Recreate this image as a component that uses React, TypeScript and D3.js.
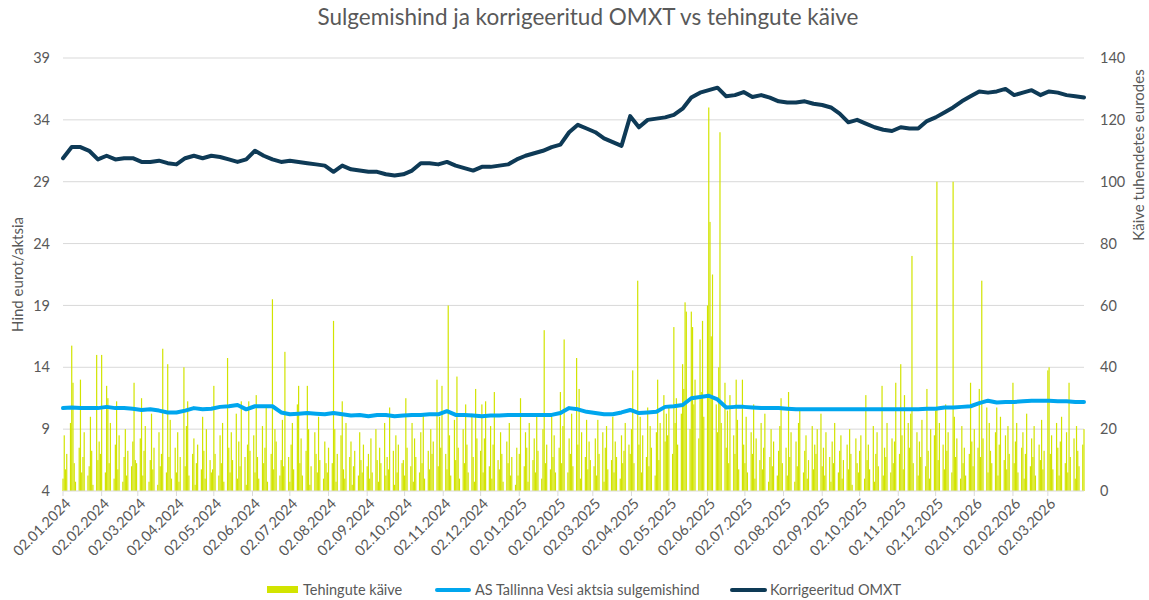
import * as d3 from "d3";

// weekly values (every 7 days from 02.01.2024), left axis
const omxt = [
  30.9, 31.8, 31.8, 31.5, 30.8, 31.1, 30.8, 30.9, 30.9, 30.6,
  30.6, 30.7, 30.5, 30.4, 30.9, 31.1, 30.9, 31.1, 31.0, 30.8,
  30.6, 30.8, 31.5, 31.1, 30.8, 30.6, 30.7, 30.6, 30.5, 30.4,
  30.3, 29.8, 30.3, 30.0, 29.9, 29.8, 29.8, 29.6, 29.5, 29.6,
  29.9, 30.5, 30.5, 30.4, 30.6, 30.3, 30.1, 29.9, 30.2, 30.2,
  30.3, 30.4, 30.8, 31.1, 31.3, 31.5, 31.8, 32.0, 33.0, 33.6,
  33.3, 33.0, 32.5, 32.2, 31.9, 34.3, 33.4, 34.0, 34.1, 34.2,
  34.4, 34.9, 35.8, 36.2, 36.4, 36.6, 35.9, 36.0, 36.25, 35.85,
  36.0, 35.8, 35.5, 35.4, 35.4, 35.5, 35.3, 35.2, 35.0, 34.5,
  33.8, 34.0, 33.7, 33.4, 33.2, 33.1, 33.4, 33.3, 33.3, 33.9,
  34.2, 34.6, 35.0, 35.5, 35.9, 36.3, 36.2, 36.3, 36.5, 36.0,
  36.2, 36.4, 36.0, 36.3, 36.2, 36.0, 35.9, 35.8,
];

const price = [
  10.7, 10.75, 10.7, 10.7, 10.7, 10.8, 10.7, 10.7, 10.65, 10.55,
  10.6, 10.5, 10.35, 10.35, 10.5, 10.7, 10.6, 10.65, 10.8, 10.85,
  10.95, 10.6, 10.85, 10.85, 10.85, 10.35, 10.2, 10.25, 10.3, 10.25,
  10.2, 10.3, 10.2, 10.1, 10.15, 10.05, 10.15, 10.15, 10.05, 10.1,
  10.15, 10.15, 10.2, 10.2, 10.45, 10.15, 10.15, 10.1, 10.05, 10.1,
  10.1, 10.15, 10.15, 10.15, 10.15, 10.15, 10.15, 10.3, 10.7, 10.6,
  10.4, 10.3, 10.2, 10.2, 10.35, 10.55, 10.3, 10.35, 10.4, 10.8,
  10.85, 10.95, 11.5, 11.6, 11.7, 11.4, 10.75, 10.8, 10.8, 10.75,
  10.7, 10.7, 10.7, 10.65, 10.6, 10.6, 10.6, 10.6, 10.6, 10.6,
  10.6, 10.6, 10.6, 10.6, 10.6, 10.6, 10.6, 10.6, 10.6, 10.65,
  10.65, 10.75, 10.75, 10.8, 10.85, 11.1, 11.3, 11.15, 11.2, 11.2,
  11.25, 11.3, 11.3, 11.3, 11.25, 11.25, 11.2, 11.2,
];

// daily turnover (thousand EUR), one value per trading day, one line per month
const vol2024 = [
  4, 18, 7, 12, 22, 47, 35, 9, 3, 14, 36, 6, 11, 19, 5, 8, 24, 13, 2, 44, 10, 16,
  12, 44, 6, 34, 30, 9, 22, 4, 15, 29, 7, 18, 3, 11, 20, 5, 13, 8, 16, 35, 10,
  9, 17, 30, 5, 13, 21, 3, 10, 25, 7, 14, 2, 19, 8, 12, 46, 6, 41, 11, 23, 4,
  14, 6, 19, 3, 11, 40, 8, 21, 29, 5, 12, 17, 2, 9, 15, 7, 24, 13, 4, 20, 10, 6,
  7, 34, 12, 5, 18, 9, 22, 3, 43, 14, 6, 19, 10, 25, 4, 16, 8, 29, 11, 2, 15, 29, 13,
  18, 6, 31, 11, 4, 21, 9, 14, 27, 3, 12, 62, 7, 20, 16, 5, 10, 23, 8, 45,
  11, 3, 15, 22, 7, 28, 34, 9, 17, 5, 13, 34, 20, 2, 8, 19, 12, 6, 24, 10, 4, 16, 9,
  6, 14, 9, 55, 20, 3, 12, 18, 29, 7, 4, 22, 11, 16, 2, 8, 13, 5, 19, 10, 6, 15,
  8, 12, 4, 17, 6, 20, 10, 3, 14, 9, 22, 5, 11, 7, 27, 13, 2, 18, 6, 15, 9,
  10, 5, 30, 14, 8, 22, 3, 17, 11, 6, 19, 9, 25, 4, 13, 7, 20, 12, 16, 36, 8, 24, 14,
  34, 12, 7, 60, 18, 5, 23, 10, 37, 14, 4, 20, 9, 28, 15, 6, 25, 11, 3, 33, 17,
  13, 28, 6, 17, 29, 8, 21, 4, 15, 32, 10, 7, 19, 12, 3, 16, 9, 22, 5, 11, 2, 14,
];
const vol2025 = [
  5, 12, 30, 8, 19, 14, 3, 22, 10, 17, 6, 25, 13, 4, 20, 52, 9, 15, 7, 24, 11, 18, 6,
  14, 32, 9, 21, 49, 6, 17, 12, 25, 8, 43, 15, 33, 4, 19, 11, 23, 7, 16, 10,
  8, 17, 5, 23, 12, 19, 3, 14, 21, 7, 10, 24, 6, 16, 11, 4, 18, 9, 13, 22, 15,
  12, 20, 39, 9, 68, 15, 24, 6, 18, 11, 27, 8, 21, 14, 5, 19, 36, 10, 22, 31, 16, 25,
  18, 27, 12, 53, 22, 30, 15, 25, 41, 33, 61, 58, 20, 58, 53, 28, 36, 17, 49, 32, 55, 24,
  60, 124, 87, 50, 70, 28, 19, 40, 116, 22, 35, 14, 26, 9, 31, 18, 12, 36, 23, 7, 36,
  15, 9, 24, 6, 19, 12, 28, 4, 17, 10, 22, 7, 14, 25, 3, 11, 20, 8, 16, 5, 13, 21, 30,
  9, 14, 5, 32, 11, 19, 3, 16, 8, 22, 26, 6, 13, 18, 4, 10, 21, 7, 15, 12, 20,
  25, 8, 14, 5, 19, 11, 3, 16, 9, 22, 6, 13, 18, 4, 10, 15, 7, 20, 12, 2, 17, 9,
  6, 13, 18, 4, 31, 10, 15, 7, 21, 3, 12, 19, 8, 34, 5, 14, 11, 22, 6, 17, 9, 16, 35,
  12, 41, 18, 7, 31, 22, 14, 25, 76, 9, 19, 5, 16, 11, 23, 8, 33, 13, 4, 20,
  18, 26, 100, 10, 22, 15, 7, 28, 13, 19, 6, 100, 24, 11, 17, 4, 21, 9, 14, 5, 12, 35, 16,
];
const vol2026 = [
  8, 20, 14, 33, 11, 68, 17, 27, 6, 22, 13, 9, 19, 27, 5, 15, 24, 10, 18, 7, 21, 12,
  35, 9, 16, 22, 6, 14, 19, 4, 12, 25, 8, 17, 11, 21, 5, 15, 10, 23, 7, 13,
  39, 40, 12, 18, 7, 22, 14, 5, 16, 24, 9, 19, 6, 35, 11, 17, 4, 21, 13, 8, 15, 20,
];

const leftTicks = [4, 9, 14, 19, 24, 29, 34, 39];
const rightTicks = [0, 20, 40, 60, 80, 100, 120, 140];

const title = "Sulgemishind ja korrigeeritud OMXT vs tehingute käive";
const leftTitle = "Hind eurot/aktsia";
const rightTitle = "Käive tuhendetes eurodes";
const legendItems = ["Tehingute käive", "AS Tallinna Vesi aktsia sulgemishind", "Korrigeeritud OMXT"];

const FONT = "Lato, 'Open Sans', sans-serif";
const TXT = "#595959";
const BAR = "#d2e400";
const BLUE = "#00a6ee";
const NAVY = "#0e3a56";

export default function App() {
  const start = new Date(2024, 0, 2);
  const end = new Date(2026, 2, 31);
  const left = 63, right = 1084, top = 58, bottom = 491;

  const x = d3.scaleTime().domain([start, end]).range([left, right]);
  const yL = d3.scaleLinear().domain([4, 39]).range([bottom, top]);
  const yR = d3.scaleLinear().domain([0, 140]).range([bottom, top]);

  const tradingDays = d3
    .timeDays(start, d3.timeDay.offset(end, 1))
    .filter((d) => d.getDay() !== 0 && d.getDay() !== 6);
  const vol = [...vol2024, ...vol2025, ...vol2026];
  const bars = tradingDays.slice(0, vol.length).map((d, i) => ({ d, v: vol[i] }));

  const weeks = omxt.map((_, i) => d3.timeDay.offset(start, 7 * i));
  const monthTicks = d3.range(27).map((i) => new Date(2024, i, 2));
  const fmt = d3.timeFormat("%d.%m.%Y");

  const lineL = d3
    .line<number>()
    .x((_, i) => x(weeks[i]))
    .y((v) => yL(v));

  return (
    <svg
      width={1149}
      height={600}
      style={{ position: "absolute", left: 0, top: 0, background: "#fff" }}
      fontFamily={FONT}
    >
      <text x={588} y={25} textAnchor="middle" fontSize={22.5} fill={TXT}>
        {title}
      </text>

      {/* gridlines */}
      {leftTicks.slice(1).map((t) => (
        <line key={t} x1={left} x2={right} y1={yL(t)} y2={yL(t)} stroke="#d9d9d9" strokeWidth={1} />
      ))}

      {/* turnover bars */}
      {bars.map((b, i) => (
        <rect key={i} x={x(b.d) - 0.6} width={1.2} y={yR(b.v)} height={bottom - yR(b.v)} fill={BAR} />
      ))}

      {/* x axis */}
      <line x1={left} x2={right} y1={bottom} y2={bottom} stroke="#d9d9d9" strokeWidth={1} />
      {monthTicks.map((t, i) => (
        <g key={i}>
          <line x1={x(t)} x2={x(t)} y1={bottom} y2={bottom + 5} stroke="#d9d9d9" />
          <text
            transform={`translate(${x(t) + 5},${bottom + 10}) rotate(-45)`}
            textAnchor="end"
            dy="0.35em"
            fontSize={14.5}
            fill={TXT}
          >
            {fmt(t)}
          </text>
        </g>
      ))}

      {/* lines */}
      <path d={lineL(price) ?? ""} fill="none" stroke={BLUE} strokeWidth={4} strokeLinejoin="round" strokeLinecap="round" />
      <path d={lineL(omxt) ?? ""} fill="none" stroke={NAVY} strokeWidth={4} strokeLinejoin="round" strokeLinecap="round" />

      {/* left axis */}
      {leftTicks.map((t) => (
        <text key={t} x={50} y={yL(t)} dy="0.35em" textAnchor="end" fontSize={14.5} fill={TXT}>
          {t}
        </text>
      ))}
      <text transform={`translate(23,${(top + bottom) / 2}) rotate(-90)`} textAnchor="middle" fontSize={15} fill={TXT}>
        {leftTitle}
      </text>

      {/* right axis */}
      {rightTicks.map((t) => (
        <text key={t} x={1100} y={yR(t)} dy="0.35em" textAnchor="start" fontSize={14.5} fill={TXT}>
          {t}
        </text>
      ))}
      <text transform={`translate(1144,155) rotate(-90)`} textAnchor="middle" fontSize={15} fill={TXT}>
        {rightTitle}
      </text>

      {/* legend */}
      <rect x={267} y={586} width={31} height={7} fill={BAR} />
      <text x={303} y={590} dy="0.35em" fontSize={14.5} fill={TXT}>
        {legendItems[0]}
      </text>
      <line x1={437} x2={469} y1={590} y2={590} stroke={BLUE} strokeWidth={4} strokeLinecap="round" />
      <text x={475} y={590} dy="0.35em" fontSize={14.5} fill={TXT}>
        {legendItems[1]}
      </text>
      <line x1={732} x2={765} y1={590} y2={590} stroke={NAVY} strokeWidth={4} strokeLinecap="round" />
      <text x={770} y={590} dy="0.35em" fontSize={14.5} fill={TXT}>
        {legendItems[2]}
      </text>
    </svg>
  );
}
